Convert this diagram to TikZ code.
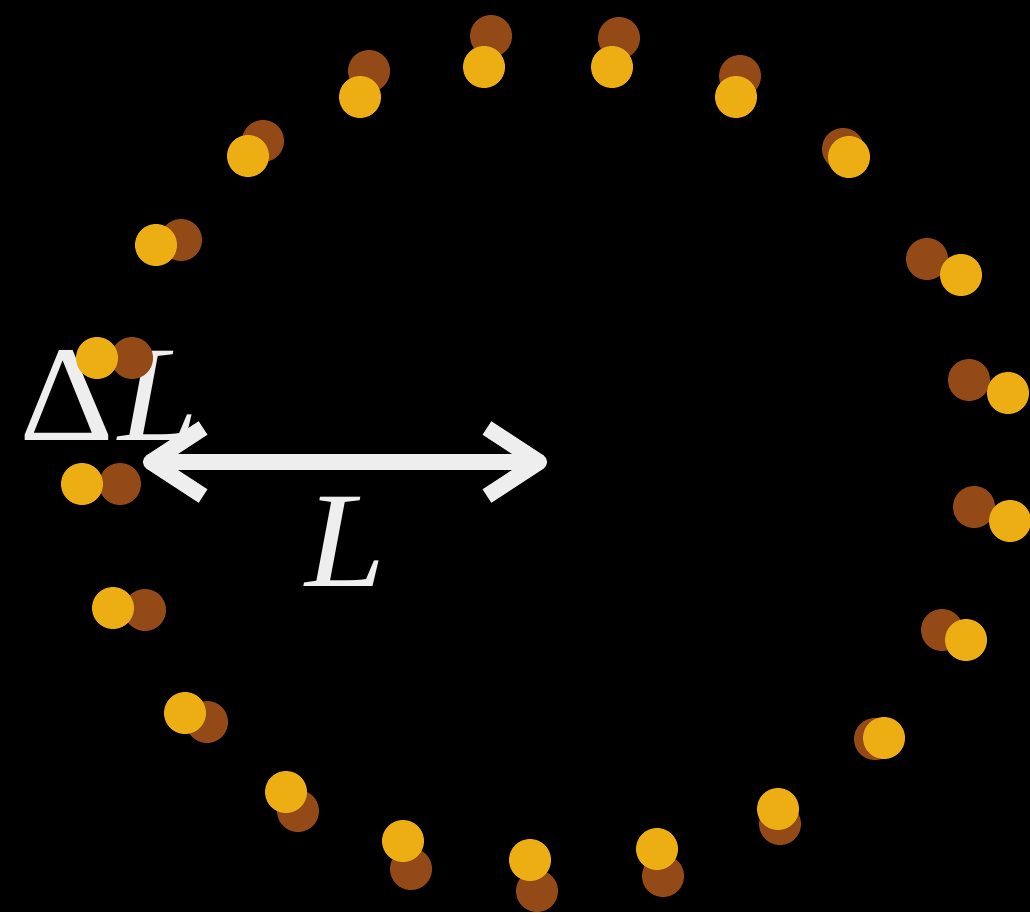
\documentclass[tikz,border=0pt]{standalone}
\usepackage{fontspec}
\setmainfont{Liberation Serif}
\usetikzlibrary{arrows.meta}
\definecolor{dotbrown}{HTML}{934A16}
\definecolor{dotyellow}{HTML}{EDAE14}
\definecolor{chalk}{HTML}{EEEEEE}
\tikzset{
  browndot/.style={fill=dotbrown},
  yellowdot/.style={fill=dotyellow},
  biglabel/.style={text=chalk,inner sep=0pt,font=\fontsize{97}{97}\selectfont},
  barb/.style={draw=chalk,line width=0.4cm,
    {Straight Barb[length=1.3cm,width=1.7cm,line cap=butt,line join=round]}-{Straight Barb[length=1.3cm,width=1.7cm,line cap=butt,line join=round]}}
}
\begin{document}
\begin{tikzpicture}[x=0.025cm,y=-0.025cm]
\fill[black] (0,0) rectangle (1030,912);
\useasboundingbox (0,0) rectangle (1030,912);
% labels
\node[biglabel,anchor=base west] (dl) at (19,440) {\scalebox{1.08}[1]{Δ}\kern0.1cm\scalebox{1.06}[1]{\textit{L}}};
\node[biglabel,anchor=base west] (len) at (305,586) {\scalebox{1.06}[1]{\textit{L}}};
% arrow from the centre to the ring
\coordinate (rim) at (143,462);
\coordinate (ctr) at (547,462);
\draw[barb] (rim) -- (ctr);
% ring of particles: brown = before, yellow = after
\foreach \bx/\by/\yx/\yy in {491/36/484/67, 619/38/612/67, 740/76/736/97,
  843/149/849/157, 927/259/961/275, 969/380/1008/393, 974/507/1010/521,
  942/630/966/640, 875/739/884/738, 780/824/778/809, 663/876/657/849,
  537/891/530/860, 411/869/403/841, 298/811/286/792, 207/722/185/713,
  145/610/113/608, 120/484/82/484, 132/358/97/358, 181/240/156/245,
  263/141/248/156, 369/71/360/97}{
  \fill[browndot] (\bx,\by) circle[radius=0.525cm];
  \fill[yellowdot] (\yx,\yy) circle[radius=0.525cm];
}
\end{tikzpicture}
\end{document}
